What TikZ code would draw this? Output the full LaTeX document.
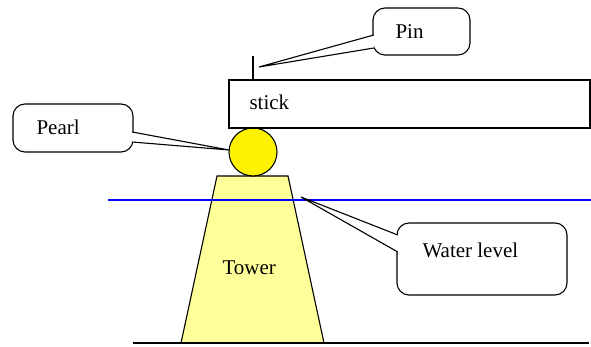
\documentclass[tikz,border=0pt]{standalone}
\usepackage{fontspec}
\setmainfont{Liberation Serif}
\newfontfamily\tnr{Liberation Serif}
\begin{document}
\begin{tikzpicture}[x=1pt,y=-1pt,line width=1.1pt,
  lbl/.style={anchor=base west,inner sep=0pt,font=\tnr\fontsize{21}{25}\selectfont},
  callbox/.style={draw,fill=white,rounded corners=12pt,inner sep=0pt,minimum width=#1},
  tailfill/.style={fill=white,draw=none}]
\useasboundingbox (0,0) rectangle (591,347);
% ground and water
\coordinate (g1) at (133,343);
\coordinate (g2) at (589,343);
\coordinate (w1) at (108,200);
\coordinate (w2) at (591,200);
% tower
\coordinate (t1) at (181,343);
\coordinate (t2) at (324,343);
\coordinate (t3) at (288,176);
\coordinate (t4) at (217,176);
\filldraw[fill={rgb,255:red,255;green,255;blue,153}] (t1) -- (t2) -- (t3) -- (t4) -- cycle;
\draw (g1) -- (g2);
\draw[blue,line width=1.4pt] (w1) -- (w2);
\node[lbl] (tower) at (222,274) {Tower};
% pearl
\node[circle,draw,fill=yellow,minimum size=48pt,inner sep=0pt] (pearl) at (253,152) {};
% stick
\node[draw,minimum width=361pt,minimum height=48pt,inner sep=0pt] (stick) at (409.5,104) {};
\node[lbl] (sticktext) at (249,110) {stick};
\coordinate (pintop) at (253,56);
\draw (pintop) -- (stick.north -| pintop);
% Pin callout
\node[callbox=97pt,minimum height=47pt] (pinbox) at (421.5,31.5) {};
\coordinate (pb1) at (373.8,35);
\coordinate (pb2) at (373.8,48);
\coordinate (pintip) at (259,67);
\fill[tailfill] (pb1) -- (pintip) -- (pb2) -- cycle;
\draw (pb1) -- (pintip) -- (pb2);
\node[lbl] (pintext) at (395,39) {Pin};
% Pearl callout
\node[callbox=120pt,minimum height=48pt] (pearlbox) at (73,128) {};
\coordinate (qb1) at (132.2,132);
\coordinate (qb2) at (132.2,142);
\coordinate (pearltip) at (229,150);
\fill[tailfill] (qb1) -- (pearltip) -- (qb2) -- cycle;
\draw (qb1) -- (pearltip) -- (qb2);
\node[lbl] (pearltext) at (36,135) {Pearl};
% Water level callout
\node[callbox=170pt,minimum height=72pt] (waterbox) at (482,259) {};
\coordinate (wb1) at (397.8,235);
\coordinate (wb2) at (397.8,252);
\coordinate (watertip) at (301,197);
\fill[tailfill] (wb1) -- (watertip) -- (wb2) -- cycle;
\draw (wb1) -- (watertip) -- (wb2);
\node[lbl] (watertext) at (422,257) {Water level};
\end{tikzpicture}
\end{document}
